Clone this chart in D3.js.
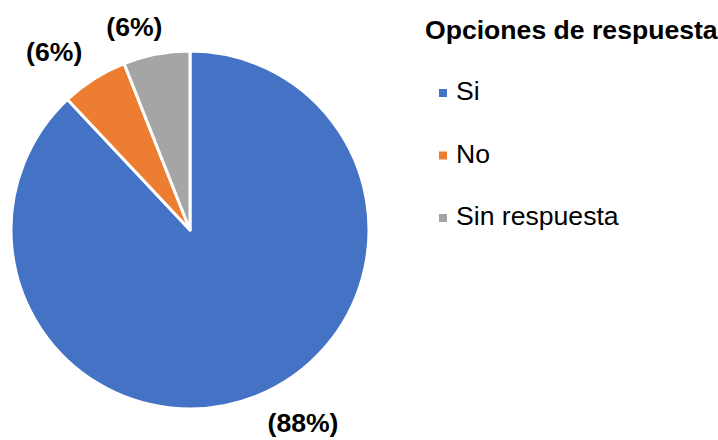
<!DOCTYPE html>
<html>
<head>
<meta charset="utf-8">
<script src="https://cdn.jsdelivr.net/npm/d3@7"></script>
<style>
  body { margin: 0; background: #fff; }
  text { font-family: "Liberation Sans", Arial, sans-serif; fill: #000; }
</style>
</head>
<body>
<div id="chart"></div>
<script>
var categories = ['Si', 'No', 'Sin respuesta']
var values = [88, 6, 6]
var labels = ['(88%)', '(6%)', '(6%)']
var colors = ['#4472C4', '#ED7D31', '#A5A5A5']
var legendTitle = 'Opciones de respuesta'

var width = 718, height = 440
var cx = 190, cy = 230, r = 179
var fontSize = '26.6px'

// small hand nudges, excel "best fit" places labels a bit off the centroid
var labelNudge = {Si: [12, -3], No: [0, -5], 'Sin respuesta': [7, 8]}

var data = categories.map((d, i) => ({name: d, value: values[i], label: labels[i], color: colors[i]}))

var svg = d3.select('#chart').append('svg')
  .attr('width', width)
  .attr('height', height)

var pie = d3.pie().value(d => d.value).sort(null)
var arc = d3.arc().innerRadius(0).outerRadius(r)
var labelArc = d3.arc().innerRadius(220).outerRadius(220)

var g = svg.append('g').attr('transform', `translate(${cx},${cy})`)

var arcs = pie(data)

g.selectAll('path.slice')
  .data(arcs)
  .join('path')
  .attr('class', 'slice')
  .attr('d', arc)
  .attr('fill', d => d.data.color)
  .attr('stroke', '#fff')
  .attr('stroke-width', 3)
  .attr('stroke-linejoin', 'round')

g.selectAll('text.lbl')
  .data(arcs)
  .join('text')
  .attr('class', 'lbl')
  .attr('transform', d => {
    var shifted = {startAngle: d.startAngle - 0.1, endAngle: d.endAngle - 0.1}
    var [x, y] = labelArc.centroid(shifted)
    var n = labelNudge[d.data.name] || [0, 0]
    return `translate(${x + n[0]},${y + n[1]})`
  })
  .attr('text-anchor', 'middle')
  .attr('dy', '0.35em')
  .style('font-size', fontSize)
  .style('font-weight', 'bold')
  .text(d => d.data.label)

// legend
var lg = svg.append('g').attr('transform', 'translate(425,0)')

lg.append('text')
  .attr('x', 0)
  .attr('y', 39)
  .style('font-size', fontSize)
  .style('font-weight', 'bold')
  .text(legendTitle)

var legendY = d3.scalePoint().domain(categories).range([100, 225])

var item = lg.selectAll('g.item')
  .data(data)
  .join('g')
  .attr('class', 'item')
  .attr('transform', d => `translate(0,${legendY(d.name)})`)

item.append('rect')
  .attr('x', 14)
  .attr('y', -11)
  .attr('width', 8)
  .attr('height', 8)
  .attr('fill', d => d.color)

item.append('text')
  .attr('x', 31)
  .attr('y', 0)
  .style('font-size', fontSize)
  .text(d => d.name)
</script>
</body>
</html>
